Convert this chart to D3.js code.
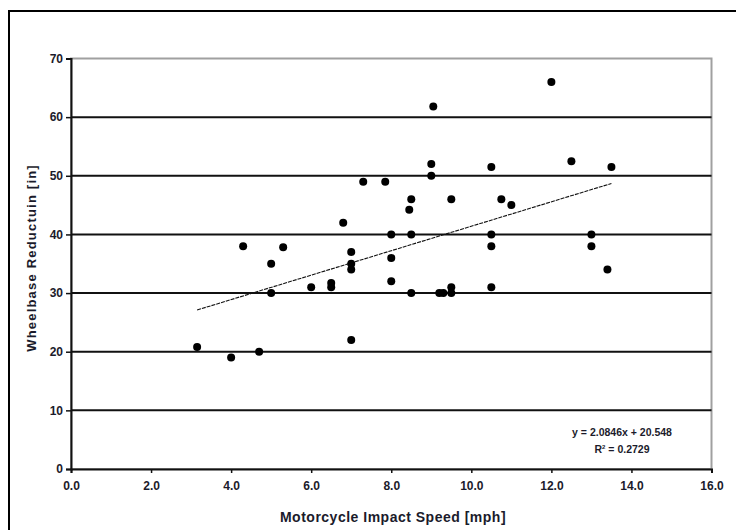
<!DOCTYPE html>
<html>
<head>
<meta charset="utf-8">
<script src="https://cdnjs.cloudflare.com/ajax/libs/d3/7.8.5/d3.min.js"></script>
<style>
  html, body { margin: 0; padding: 0; background: #fff; }
  svg { display: block; }
  text { font-family: "Liberation Sans", Arial, sans-serif; }
</style>
</head>
<body>
<svg id="chart" width="736" height="530"></svg>
<script>
// ---- data ----
const speedMph = [3.15, 4.0, 4.7, 4.3, 5.3, 5.0, 5.0, 6.0, 6.5, 6.5, 6.8, 7.0, 7.0, 7.0, 7.0,
  7.3, 7.85, 8.0, 8.0, 8.0, 8.5, 8.45, 8.5, 8.5, 9.0, 9.0, 9.05, 9.2, 9.3, 9.5, 9.5, 9.5,
  10.5, 10.5, 10.5, 10.5, 10.75, 11.0, 12.0, 12.5, 13.0, 13.0, 13.4, 13.5];
const reductionIn = [20.8, 19.0, 20.0, 38.0, 37.8, 35.0, 30.0, 31.0, 31.7, 31.0, 42.0, 37.0, 35.0, 34.0, 22.0,
  49.0, 49.0, 40.0, 36.0, 32.0, 46.0, 44.2, 40.0, 30.0, 52.0, 50.0, 61.8, 30.0, 30.0, 46.0, 31.0, 30.0,
  51.5, 40.0, 38.0, 31.0, 46.0, 45.0, 66.0, 52.5, 40.0, 38.0, 34.0, 51.5];
const trendSlope = 2.0846;
const trendIntercept = 20.548;
const rSquared = 0.2729;
const xTicks = [0, 2, 4, 6, 8, 10, 12, 14, 16];
const yTicks = [0, 10, 20, 30, 40, 50, 60, 70];
const xLabel = "Motorcycle Impact Speed [mph]";
const yLabel = "Wheelbase Reductuin [in]";
const eqText = "y = 2.0846x + 20.548";

// ---- layout ----
const svg = d3.select("#chart");
const x = d3.scaleLinear().domain([0, 16]).range([71, 711.5]);
const y = d3.scaleLinear().domain([0, 70]).range([469, 58.5]);
const textColor = "#1b1b2b";

// outer frame
svg.append("rect").attr("x", 9).attr("y", 11).attr("width", 740).attr("height", 540)
  .attr("fill", "none").attr("stroke", "#000").attr("stroke-width", 2);

// plot border (gray top/right)
svg.append("rect")
  .attr("x", x(0)).attr("y", y(70))
  .attr("width", x(16) - x(0)).attr("height", y(0) - y(70))
  .attr("fill", "none").attr("stroke", "#a0a0a0").attr("stroke-width", 2);

// gridlines
svg.append("g").selectAll("line")
  .data(yTicks.filter(d => d > 0 && d < 70))
  .join("line")
  .attr("x1", x(0)).attr("x2", x(16))
  .attr("y1", d => y(d)).attr("y2", d => y(d))
  .attr("stroke", "#111").attr("stroke-width", 2);

// axes
const yAxis = d3.axisLeft(y).tickValues(yTicks).tickFormat(d3.format("d")).tickSize(5).tickPadding(3);
const xAxis = d3.axisBottom(x).tickValues(xTicks).tickFormat(d3.format(".1f")).tickSize(4).tickPadding(8);

const gy = svg.append("g").attr("transform", `translate(${x(0)},0)`).call(yAxis);
const gx = svg.append("g").attr("transform", `translate(0,${y(0)})`).call(xAxis);
[gx, gy].forEach(g => {
  g.select(".domain").attr("stroke", "#111").attr("stroke-width", 2);
  g.selectAll(".tick line").attr("stroke", "#111").attr("stroke-width", 1.5);
  g.selectAll(".tick text")
    .attr("fill", textColor)
    .attr("font-size", 12)
    .attr("font-weight", "bold")
    .attr("font-family", "'Liberation Sans', Arial, sans-serif");
});

// trendline
const xMin = d3.min(speedMph), xMax = d3.max(speedMph);
svg.append("line")
  .attr("x1", x(xMin)).attr("y1", y(trendSlope * xMin + trendIntercept))
  .attr("x2", x(xMax)).attr("y2", y(trendSlope * xMax + trendIntercept))
  .attr("stroke", "#111").attr("stroke-width", 1.1)
  .attr("stroke-dasharray", "4,1");

// points
svg.append("g").selectAll("circle")
  .data(speedMph.map((s, i) => [s, reductionIn[i]]))
  .join("circle")
  .attr("cx", d => x(d[0])).attr("cy", d => y(d[1]))
  .attr("r", 4).attr("fill", "#000");

// equation text
svg.append("text").attr("x", 622).attr("y", 436)
  .attr("text-anchor", "middle").attr("font-size", 10.5).attr("font-weight", "bold")
  .attr("fill", textColor).text(eqText);
const r2 = svg.append("text").attr("x", 622).attr("y", 453)
  .attr("text-anchor", "middle").attr("font-size", 10.5).attr("font-weight", "bold")
  .attr("fill", textColor);
r2.append("tspan").text("R");
r2.append("tspan").attr("font-size", 6).attr("dy", -4).text("2");
r2.append("tspan").attr("dy", 4).text(" = " + rSquared.toFixed(4));

// axis titles
svg.append("text").attr("x", 393).attr("y", 522)
  .attr("text-anchor", "middle").attr("font-size", 14).attr("font-weight", "bold")
  .attr("letter-spacing", 0.5)
  .attr("fill", textColor).text(xLabel);
svg.append("text")
  .attr("transform", `translate(36,258) rotate(-90)`)
  .attr("text-anchor", "middle").attr("font-size", 13).attr("font-weight", "bold")
  .attr("letter-spacing", 1.2)
  .attr("fill", textColor).text(yLabel);
</script>
</body>
</html>
